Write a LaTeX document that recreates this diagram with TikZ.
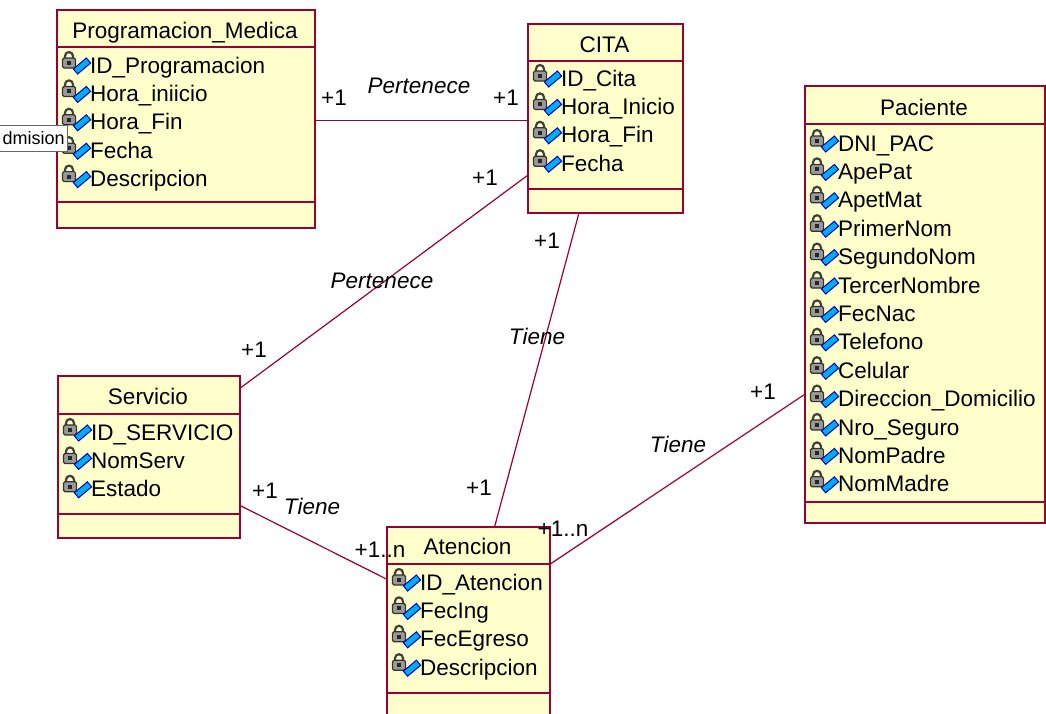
\documentclass[tikz,border=0pt]{standalone}
\usepackage{fontspec}
\setmainfont{Liberation Sans}
\usetikzlibrary{calc}
\definecolor{umlred}{RGB}{153,0,51}
\definecolor{umlyellow}{RGB}{255,255,204}

\begin{document}
\begin{tikzpicture}[x=1pt, y=-1pt,
  classbox/.style={draw=umlred, fill=umlyellow, line width=1.6pt, inner sep=0, anchor=north west},
  classsep/.style={draw=umlred, line width=1.6pt},
  classname/.style={anchor=base, inner sep=0, font=\fontsize{22.5}{26}\selectfont},
  attr/.style={anchor=base west, inner sep=0, font=\fontsize{22.5}{26}\selectfont},
  assoc/.style={draw=umlred, line width=1.2pt},
  mult/.style={inner sep=0, font=\fontsize{22.5}{26}\selectfont},
  role/.style={inner sep=0, font=\fontsize{22.5}{26}\selectfont\itshape},
  tip/.style={draw=black!60, fill=white, line width=0.8pt, font=\fontsize{18}{20}\selectfont},
  attricon/.pic={
    \draw[black!75, line width=2.2pt] (3,-12) -- (3,-17) arc[start angle=180, end angle=360, radius=4] -- (11,-12);
    \filldraw[fill=black!40, draw=black!80, line width=1.2pt, rounded corners=1.5pt] (0.5,-15) rectangle (13.5,-5);
    \fill[black!85] (5,-12) rectangle (9,-8);
    \filldraw[fill=cyan, draw=blue!75!black, line width=1pt, shift={(20,-7)}, rotate=40] (-8.5,-3.3) rectangle (8.5,3.3);
  }]
\useasboundingbox (0,0) rectangle (1046,713);
\fill[white] (0,0) rectangle (1046,713);
\clip (0,0) rectangle (1046,713);

\node[classbox, minimum width=258pt, minimum height=218pt] (prog) at (56,9) {};
\draw[classsep] ([yshift=-38pt]prog.north west) -- ([yshift=-38pt]prog.north east);
\draw[classsep] ([yshift=-193pt]prog.north west) -- ([yshift=-193pt]prog.north east);
\node[classname] (progname) at (185,38) {Programacion\_Medica};
\foreach \a [count=\i] in {ID\_Programacion, Hora\_iniicio, Hora\_Fin, Fecha, Descripcion} {
  \pic at (62,44.6+28.4*\i) {attricon};
  \node[attr] (progattr\i) at (90,44.6+28.4*\i) {\a};
}

\node[classbox, minimum width=155pt, minimum height=189pt] (cita) at (527,23) {};
\draw[classsep] ([yshift=-38pt]cita.north west) -- ([yshift=-38pt]cita.north east);
\draw[classsep] ([yshift=-166pt]cita.north west) -- ([yshift=-166pt]cita.north east);
\node[classname] (citaname) at (604.5,52) {CITA};
\foreach \a [count=\i] in {ID\_Cita, Hora\_Inicio, Hora\_Fin, Fecha} {
  \pic at (533,57.6+28.4*\i) {attricon};
  \node[attr] (citaattr\i) at (561,57.6+28.4*\i) {\a};
}

\node[classbox, minimum width=240pt, minimum height=437pt] (pac) at (804,85) {};
\draw[classsep] ([yshift=-39pt]pac.north west) -- ([yshift=-39pt]pac.north east);
\draw[classsep] ([yshift=-417pt]pac.north west) -- ([yshift=-417pt]pac.north east);
\node[classname] (pacname) at (924,115) {Paciente};
\foreach \a [count=\i] in {DNI\_PAC, ApePat, ApetMat, PrimerNom, SegundoNom, TercerNombre, FecNac, Telefono, Celular, Direccion\_Domicilio, Nro\_Seguro, NomPadre, NomMadre} {
  \pic at (810,122.6+28.4*\i) {attricon};
  \node[attr] (pacattr\i) at (838,122.6+28.4*\i) {\a};
}

\node[classbox, minimum width=182pt, minimum height=162pt] (serv) at (57,375) {};
\draw[classsep] ([yshift=-39pt]serv.north west) -- ([yshift=-39pt]serv.north east);
\draw[classsep] ([yshift=-139pt]serv.north west) -- ([yshift=-139pt]serv.north east);
\node[classname] (servname) at (148,404) {Servicio};
\foreach \a [count=\i] in {ID\_SERVICIO, NomServ, Estado} {
  \pic at (63,411.6+28.4*\i) {attricon};
  \node[attr] (servattr\i) at (91,411.6+28.4*\i) {\a};
}

\node[classbox, minimum width=163pt, minimum height=190pt] (aten) at (386,526) {};
\draw[classsep] ([yshift=-38pt]aten.north west) -- ([yshift=-38pt]aten.north east);
\draw[classsep] ([yshift=-167pt]aten.north west) -- ([yshift=-167pt]aten.north east);
\node[classname] (atenname) at (467.5,554) {Atencion};
\foreach \a [count=\i] in {ID\_Atencion, FecIng, FecEgreso, Descripcion} {
  \pic at (392,561.6+28.4*\i) {attricon};
  \node[attr] (atenattr\i) at (420,561.6+28.4*\i) {\a};
}

\draw[assoc] ([yshift=-1.5pt]prog.east) -- ([yshift=-1.5pt]prog.east -| cita.west);
\draw[assoc] ([yshift=-57.5pt]cita.west) -- ([yshift=69pt]serv.east);
\draw[assoc] ([xshift=-26.5pt]cita.south) -- ([xshift=26.5pt]aten.north);
\draw[assoc] ([yshift=-49pt]serv.east) -- ([yshift=43pt]aten.west);
\draw[assoc] ([yshift=58pt]aten.east) -- ([yshift=-90.5pt]pac.west);

\node[mult] (m1) at (334,98) {+1};
\node[role] (r1) at (419,86) {Pertenece};
\node[mult] (m2) at (506,98) {+1};
\node[mult] (m3) at (485,178) {+1};
\node[role] (r2) at (382,281) {Pertenece};
\node[mult] (m4) at (254,350) {+1};
\node[mult] (m5) at (547,241) {+1};
\node[role] (r3) at (537,336) {Tiene};
\node[mult] (m6) at (479,488) {+1};
\node[mult] (m7) at (265,491) {+1};
\node[role] (r4) at (312,506) {Tiene};
\node[mult] (m8) at (380,550) {+1..n};
\node[mult] (m9) at (563,529) {+1..n};
\node[role] (r5) at (678,444) {Tiene};
\node[mult] (m10) at (763,392) {+1};

\node[tip, anchor=east, text width=70pt, align=right, inner xsep=3pt, minimum height=26pt] (admtip) at (68,138) {dmision};
\end{tikzpicture}
\end{document}
